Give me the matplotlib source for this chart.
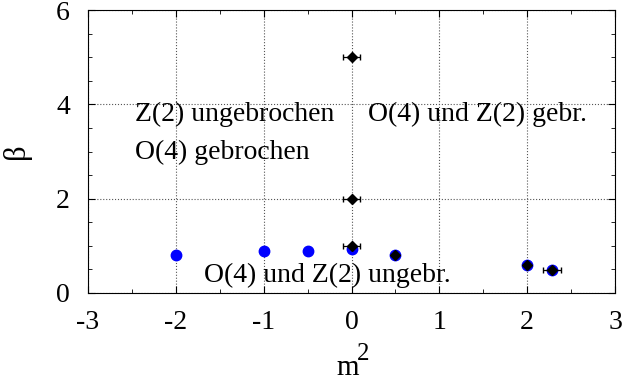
import matplotlib
matplotlib.use("Agg")
import matplotlib.pyplot as plt
from matplotlib.ticker import MultipleLocator

plt.rcParams['font.family'] = ['Liberation Serif', 'DejaVu Serif']

blue_m2 = [-2.0, -1.0, -0.5, 0.0, 0.5, 2.0, 2.28]
blue_beta = [0.81, 0.89, 0.89, 0.94, 0.80, 0.60, 0.49]

black_m2 = [0.0, 0.0, 0.0, 0.5, 2.0, 2.28]
black_beta = [5.0, 2.0, 1.0, 0.80, 0.60, 0.49]
black_xerr = [0.1, 0.1, 0.1, 0.0, 0.0, 0.1]

xticks = [-3, -2, -1, 0, 1, 2, 3]
xticklabels = ['-3', '-2', '-1', '0', '1', '2', '3']

fig = plt.figure(figsize=(6.24, 3.83), dpi=100)
ax = fig.add_axes([88/624, 1-293/383, (615-88)/624, (293-10)/383])

ax.plot(blue_m2, blue_beta, 'o', color='#0000ff', markersize=7.5, zorder=3)
ax.errorbar(black_m2, black_beta, xerr=black_xerr, fmt='D', color='black',
            markersize=5.5, elinewidth=0.9, capsize=2, zorder=4)

ax.set_xlim(-3, 3)
ax.set_ylim(0, 6)
ax.set_xticks(xticks)
ax.set_xticklabels(xticklabels)
ax.xaxis.set_minor_locator(MultipleLocator(0.5))
ax.yaxis.set_major_locator(MultipleLocator(2))
ax.yaxis.set_minor_locator(MultipleLocator(0.5))
ax.grid(True, which='major', linestyle=':', color='#555555', linewidth=0.8)
ax.tick_params(which='both', direction='in', top=True, right=True, labelsize=20)
ax.tick_params(which='major', length=5)
ax.tick_params(which='minor', length=3)
ax.tick_params(axis='x', pad=12)
ax.tick_params(axis='y', pad=13)

ax.set_ylabel('β', fontsize=22, labelpad=18)

# x label "m" with a large superscript "2"
fig.text(348/624, 1-375/383, 'm', fontsize=21, ha='center', va='baseline')
fig.text(357/624, 1-360/383, '2', fontsize=18, ha='left', va='baseline')

fs = 20
ax.text(-2.47, 3.79, 'Z(2) ungebrochen', fontsize=fs, va='center', ha='left')
ax.text(-2.47, 2.98, 'O(4) gebrochen', fontsize=fs, va='center', ha='left')
ax.text(0.19, 3.79, 'O(4) und Z(2) gebr.', fontsize=fs, va='center', ha='left')
ax.text(-1.68, 0.38, 'O(4) und Z(2) ungebr.', fontsize=fs, va='center', ha='left')

fig.savefig('out.png', dpi=100)
